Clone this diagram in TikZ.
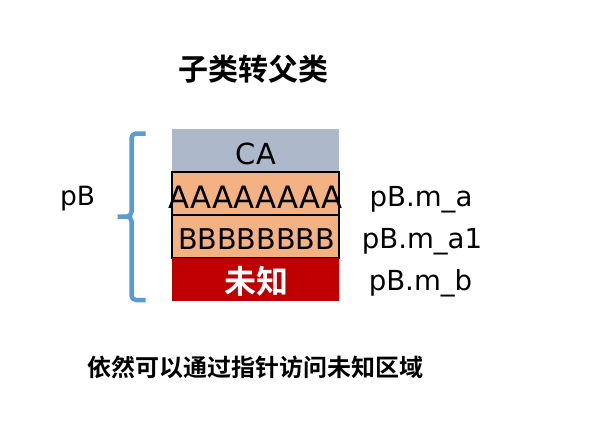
\documentclass[tikz,border=0pt]{standalone}
\usepackage{fontspec}
\setmainfont{DejaVu Sans}
\newfontfamily\cjk{Noto Sans CJK SC Bold}
\definecolor{cagray}{HTML}{ADB9CA}
\definecolor{orng}{HTML}{F4B183}
\definecolor{darkred}{HTML}{C00000}
\definecolor{braceblue}{HTML}{5B9BD5}
\begin{document}
\begin{tikzpicture}[x=1pt,y=-1pt,
  row/.style={minimum width=167pt,minimum height=43pt,inner sep=0pt,anchor=north west,outer sep=0pt},
  txt/.style={anchor=base,inner sep=0pt},
  lbl/.style={txt,font=\fontsize{27.6}{27.6}\selectfont}]
\useasboundingbox (0,0) rectangle (615,440);
% title
\node[txt,font=\cjk\fontsize{30}{30}\selectfont] (title) at (253.5,80) {子类转父类};
% rows
\node[row,fill=cagray] (ca) at (172,129) {};
\node[row,fill=orng,draw=black,line width=1.3pt] (ra) at (172,172) {};
\node[row,fill=orng,draw=black,line width=1.3pt] (rb) at (172,215) {};
\node[row,fill=darkred] (rc) at (172,258) {};
\node[txt,font=\fontsize{29}{29}\selectfont] (tca) at (256,164) {CA};
\node[txt,font=\fontsize{30.8}{30.8}\selectfont] (ta) at (255.5,208) {AAAAAAAA};
\node[txt,font=\fontsize{28.6}{28.6}\selectfont] (tb) at (256.5,249) {BBBBBBBB};
\node[txt,text=white,font=\cjk\fontsize{32}{32}\selectfont] (tc) at (256,293) {未知};
% labels
\node[lbl] (la) at (421,206) {pB.m\_a};
\node[lbl] (la1) at (422,248) {pB.m\_a1};
\node[lbl] (lb) at (420.5,290) {pB.m\_b};
\node[txt,font=\fontsize{26.5}{26.5}\selectfont] (pb) at (77.5,205) {pB};
% brace
\coordinate (bt) at (145.5,133.5);
\coordinate (bm) at (117.5,216.5);
\coordinate (bb) at (145.5,300);
\draw[braceblue,line width=4.5pt,line join=round]
  (bt) -- (136,133.5) to[out=180,in=90] (131.5,138) -- (131.5,212)
  to[out=-90,in=0] (127,216.5) -- (bm)
  (127,216.5) to[out=0,in=90] (131.5,221) -- (131.5,295.5)
  to[out=-90,in=180] (136,300) -- (bb);
% bottom text
\node[txt,font=\cjk\fontsize{24}{24}\selectfont] (note) at (255.5,376.5) {依然可以通过指针访问未知区域};
\end{tikzpicture}
\end{document}
